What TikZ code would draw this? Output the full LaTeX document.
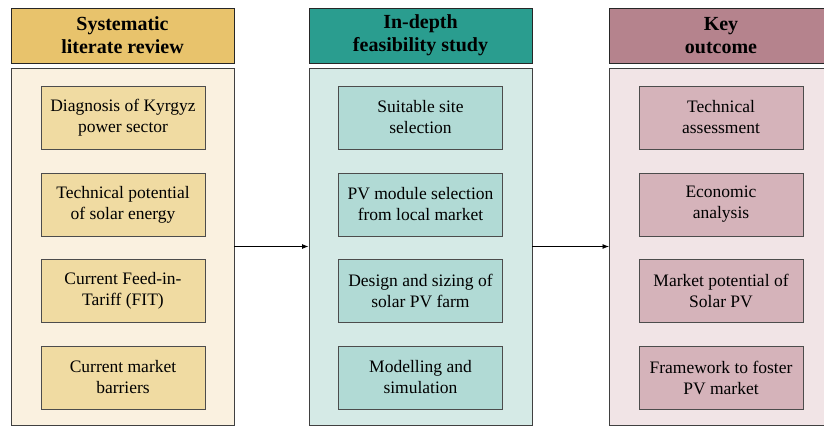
\documentclass[tikz,border=0pt]{standalone}
\usepackage{fontspec}
\setmainfont{Liberation Serif}
\definecolor{LitHead}{HTML}{E8C36C}
\definecolor{LitBody}{HTML}{FAF1E0}
\definecolor{LitBox}{HTML}{F0DBA2}
\definecolor{StudyHead}{HTML}{2A9D8F}
\definecolor{StudyBody}{HTML}{D5EAE6}
\definecolor{StudyBox}{HTML}{B1DAD5}
\definecolor{OutHead}{HTML}{B5838D}
\definecolor{OutBody}{HTML}{F1E4E6}
\definecolor{OutBox}{HTML}{D5B3BA}
\usetikzlibrary{arrows.meta, positioning}

\begin{document}
\begin{tikzpicture}[>=Latex, x=1pt, y=-1pt,
  head/.style={draw=black!85, line width=0.8pt, minimum width=223pt,
               minimum height=55pt, inner sep=0pt, align=center,
               font=\rmfamily\fontsize{20}{23}\selectfont\bfseries},
  panel/.style={draw=black!75, line width=0.8pt, minimum width=223pt,
                minimum height=357pt, inner sep=0pt},
  item/.style={draw=black!70, line width=0.8pt, minimum width=164pt,
               minimum height=63pt, inner sep=0pt, align=center,
               font=\rmfamily\fontsize{17.5}{21}\selectfont}]
  \useasboundingbox (0,0) rectangle (824,426);
  % systematic review
  \node[head, fill=LitHead] (lithead) at (122.5, 35.5) {Systematic\\literate review};
  \node[panel, fill=LitBody] (litbody) at (122.5, 246.5) {};
  \node[item, fill=LitBox] (lit1) at (123, 117.5) {Diagnosis of Kyrgyz\\power sector};
  \node[item, fill=LitBox] (lit2) at (123, 204.5) {Technical potential\\of solar energy};
  \node[item, fill=LitBox] (lit3) at (123, 291) {Current Feed-in-\\Tariff (FIT)};
  \node[item, fill=LitBox] (lit4) at (123, 377.5) {Current market\\barriers};
  % feasibility study
  \node[head, fill=StudyHead] (studyhead) at (420.5, 35.5) {In-depth\\feasibility study};
  \node[panel, fill=StudyBody] (studybody) at (420.5, 246.5) {};
  \node[item, fill=StudyBox] (study1) at (420.5, 117.5) {Suitable site\\selection};
  \node[item, fill=StudyBox] (study2) at (420.5, 204.5) {PV module selection\\from local market};
  \node[item, fill=StudyBox] (study3) at (420.5, 291) {Design and sizing of\\solar PV farm};
  \node[item, fill=StudyBox] (study4) at (420.5, 377.5) {Modelling and\\simulation};
  % outcome
  \node[head, fill=OutHead] (outhead) at (721, 35.5) {Key\\outcome};
  \node[panel, fill=OutBody] (outbody) at (721, 246.5) {};
  \node[item, fill=OutBox] (out1) at (721, 117.5) {Technical\\assessment};
  \node[item, fill=OutBox] (out2) at (721, 204.5) {Economic\\analysis};
  \node[item, fill=OutBox] (out3) at (721, 291) {Market potential of\\Solar PV};
  \node[item, fill=OutBox] (out4) at (721, 377.5) {Framework to foster\\PV market};
  \draw[->, line width=0.8pt] (litbody) -- (studybody);
  \draw[->, line width=0.8pt] (studybody) -- (outbody);
\end{tikzpicture}
\end{document}
